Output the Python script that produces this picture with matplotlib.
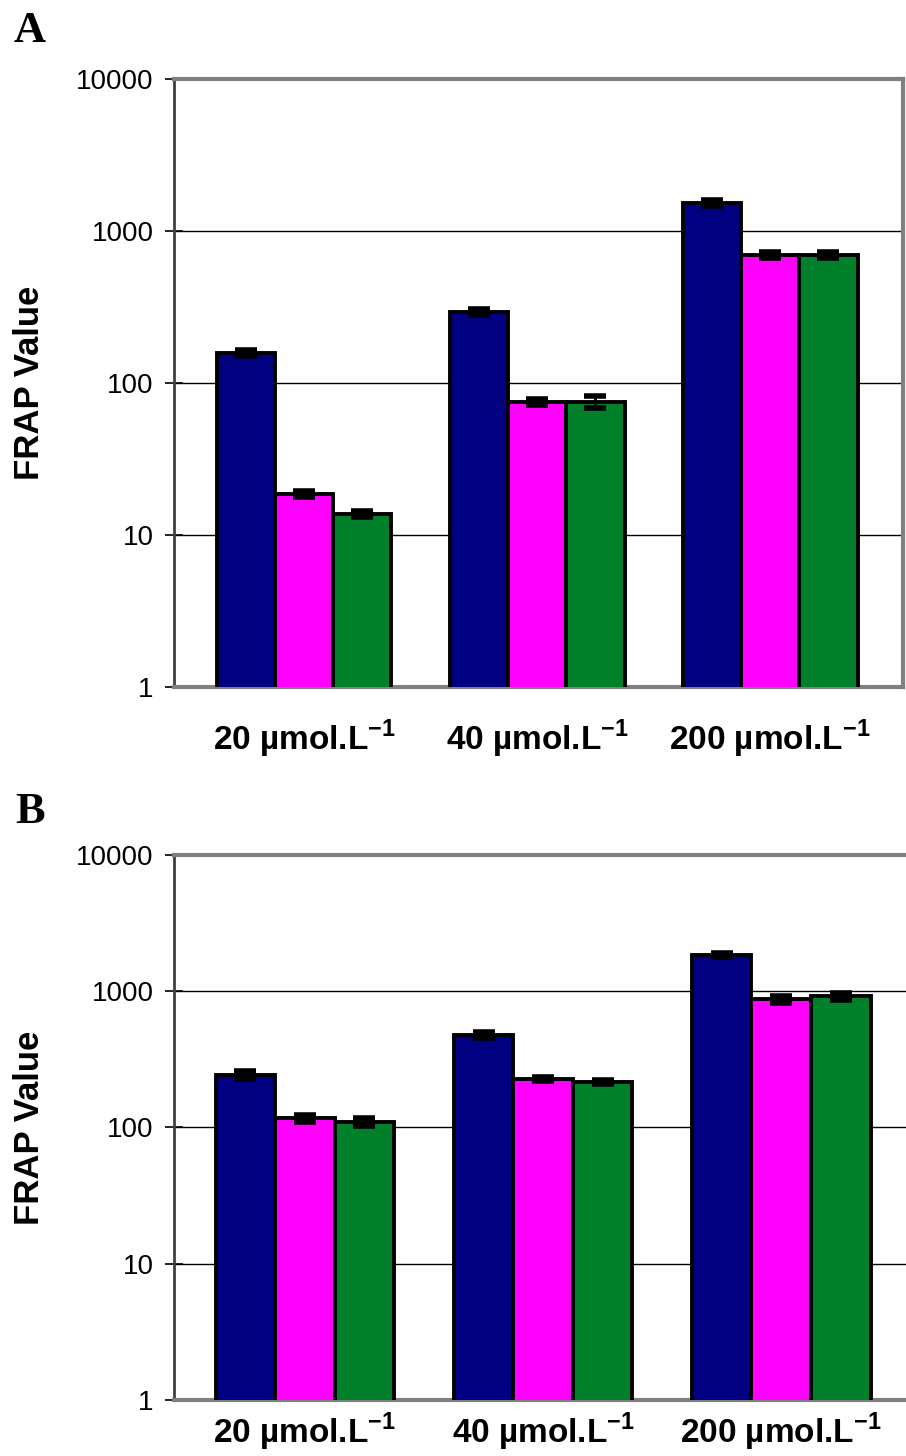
import numpy as np
import matplotlib
matplotlib.use("Agg")
from matplotlib import pyplot as plt

# concentrations on the x axis
categories = ["20 µmol.L$^{\\mathregular{-1}}$", "40 µmol.L$^{\\mathregular{-1}}$", "200 µmol.L$^{\\mathregular{-1}}$"]
series_colors = ["#000080", "#FF00FF", "#00802A"]

# panel A values (navy, magenta, green) and errors
a_navy = [157, 293, 1528]
a_magenta = [18.6, 75, 695]
a_green = [13.7, 75, 695]
a_navy_err = [7, 14, 70]
a_magenta_err = [0.9, 3.5, 30]
a_green_err = [0.6, 7, 30]

# panel B values and errors
b_navy = [243, 478, 1845]
b_magenta = [117, 227, 870]
b_green = [110, 216, 915]
b_navy_err = [15, 28, 60]
b_magenta_err = [7, 8, 55]
b_green_err = [8, 8, 55]

yticks = [1, 10, 100, 1000, 10000]

plt.rcParams['font.family'] = ['Liberation Sans', 'DejaVu Sans']

fig = plt.figure(figsize=(9.06, 14.56), dpi=100)


def draw_panel(ax, vals, errs, xlim):
    x = np.arange(len(categories))
    w = 0.25
    ax.set_yscale('log')
    for i, (v, e, c) in enumerate(zip(vals, errs, series_colors)):
        pos = x + (i - 1) * w
        ax.bar(pos, v, width=w, color=c, edgecolor='black', linewidth=2.8, zorder=3)
        ax.errorbar(pos, v, yerr=e, fmt='none', ecolor='black', elinewidth=2,
                    capsize=8, capthick=4, zorder=4)
    ax.set_ylim(1, 10000)
    ax.set_xlim(*xlim)
    ax.set_yticks(yticks)
    ax.set_yticklabels([str(t) for t in yticks], fontsize=20)
    ax.yaxis.set_minor_locator(matplotlib.ticker.NullLocator())
    ax.tick_params(axis='y', direction='inout', length=13, width=1.2, pad=8)
    ax.set_xticks([])
    for t in [10, 100, 1000]:
        ax.axhline(t, color='black', linewidth=1, zorder=1)
    ax.spines['left'].set_color('#404040')
    ax.spines['left'].set_linewidth(2)
    for s in ['top', 'right', 'bottom']:
        ax.spines[s].set_color('#808080')
        ax.spines[s].set_linewidth(3)
    ax.set_ylabel("FRAP Value", fontsize=25, fontweight='bold', labelpad=22)
    return x


axA = fig.add_axes([0.192, 0.528, 0.805, 0.418])
xa = draw_panel(axA, [a_navy, a_magenta, a_green], [a_navy_err, a_magenta_err, a_green_err],
                (-0.558, 2.571))
for xi, lab in zip(xa, categories):
    axA.text(xi, -0.085, lab, transform=axA.get_xaxis_transform(), ha='center', va='center',
             fontsize=24, fontweight='bold')

axB = fig.add_axes([0.192, 0.0385, 0.9, 0.3743])
xb = draw_panel(axB, [b_navy, b_magenta, b_green], [b_navy_err, b_magenta_err, b_green_err],
                (-0.55, 2.874))
for xi, lab in zip(xb, categories):
    axB.text(xi, -0.058, lab, transform=axB.get_xaxis_transform(), ha='center', va='center',
             fontsize=24, fontweight='bold')

fig.text(0.033, 0.979, "A", fontsize=32, fontweight='bold', family='Liberation Serif',
         ha='center', va='center')
fig.text(0.033, 0.442, "B", fontsize=32, fontweight='bold', family='Liberation Serif',
         ha='center', va='center')

fig.savefig("out.png", dpi=100)
